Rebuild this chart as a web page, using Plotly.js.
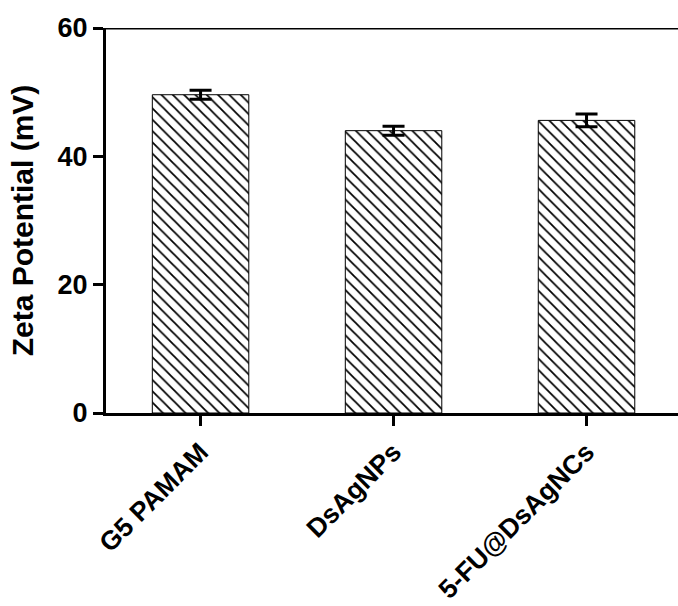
<!DOCTYPE html>
<html>
<head>
<meta charset="utf-8">
<script src="https://cdn.plot.ly/plotly-3.0.1.min.js"></script>
<style>html,body{margin:0;padding:0;background:#fff;}#chart{width:678px;height:606px;}</style>
</head>
<body>
<div id="chart"></div>
<script>
const categories = ["G5 PAMAM", "DsAgNPs", "5-FU@DsAgNCs"];
const zetaValues = [49.6, 44.0, 45.6];
const zetaErrors = [0.7, 0.7, 1.0];
const yTickValues = [0, 20, 40, 60];

const font = {family: "Liberation Sans, Arial, sans-serif", color: "#000", weight: "bold"};

const trace = {
  type: "bar",
  x: categories,
  y: zetaValues,
  width: 0.5,
  marker: {
    color: "#fff",
    line: {color: "#000", width: 1},
    pattern: {shape: "\\", fgcolor: "#000", bgcolor: "#fff", size: 8, solidity: 0.22}
  },
  error_y: {type: "data", array: zetaErrors, visible: true, color: "#000", thickness: 3, width: 11},
  hoverinfo: "none"
};

const layout = {
  width: 678, height: 606,
  margin: {l: 106, r: 0, t: 28, b: 193},
  paper_bgcolor: "#fff", plot_bgcolor: "#fff",
  showlegend: false,
  font: Object.assign({size: 26}, font),
  xaxis: {
    type: "category",
    range: [-0.49, 2.474],
    showline: true, linecolor: "#000", linewidth: 3,
    ticks: "outside", ticklen: 10, tickwidth: 3, tickcolor: "#000",
    tickangle: -45,
    tickfont: Object.assign({size: 26.5}, font),
    showgrid: false, zeroline: false
  },
  yaxis: {
    range: [0, 60],
    tickvals: yTickValues,
    showline: true, linecolor: "#000", linewidth: 3,
    ticks: "outside", ticklen: 10, tickwidth: 3, tickcolor: "#000",
    tickfont: Object.assign({size: 27}, font),
    showgrid: false, zeroline: false,
    title: {text: "Zeta Potential (mV)", font: Object.assign({size: 30}, font), standoff: 16}
  },
  shapes: [{
    type: "line", xref: "paper", yref: "y", x0: 0, x1: 1, y0: 60, y1: 60,
    line: {color: "#000", width: 3}
  }]
};

Plotly.newPlot("chart", [trace], layout, {displayModeBar: false, staticPlot: true});
</script>
</body>
</html>
